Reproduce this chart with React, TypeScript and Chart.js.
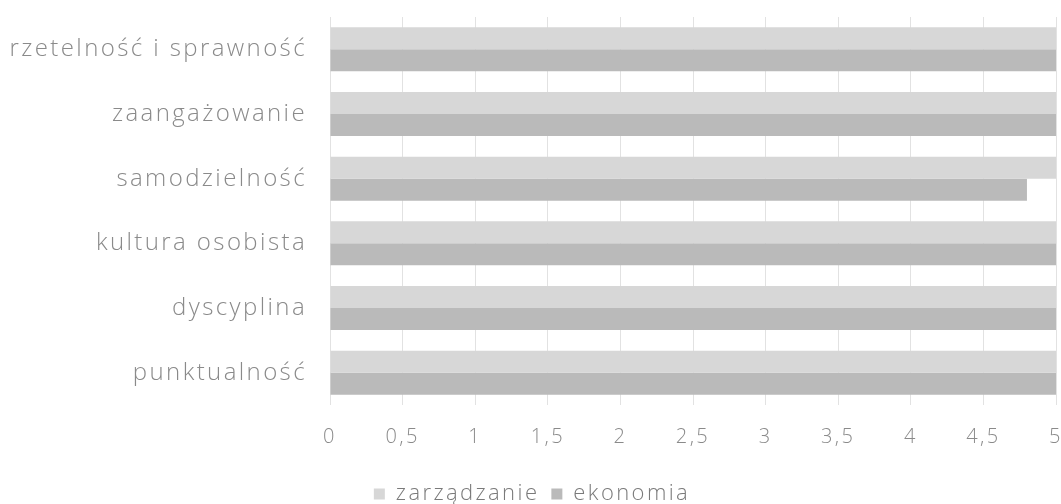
import React, { useEffect, useRef } from "react";
import { Chart, registerables } from "chart.js";

Chart.register(...registerables);

const categories = [
  "rzetelność i sprawność",
  "zaangażowanie",
  "samodzielność",
  "kultura osobista",
  "dyscyplina",
  "punktualność",
];
const zarzadzanie = [5, 5, 5, 5, 5, 5];
const ekonomia = [5, 5, 4.8, 5, 5, 5];
const tickValues = [0, 0.5, 1, 1.5, 2, 2.5, 3, 3.5, 4, 4.5, 5];

const spacingPlugin = {
  id: "spacing",
  beforeUpdate(chart: any) {
    chart.ctx.letterSpacing = "2.4px";
  },
  beforeDraw(chart: any) {
    chart.ctx.letterSpacing = "2.4px";
  },
};

const CANVAS_H = 515;

export default function App() {
  const ref = useRef<HTMLCanvasElement>(null);
  useEffect(() => {
    document.body.style.margin = "0";
    const ctx = ref.current!.getContext("2d")!;
    const chart = new Chart(ctx, {
      type: "bar",
      data: {
        labels: categories,
        datasets: [
          { label: "zarządzanie", data: zarzadzanie, backgroundColor: "#d7d7d7", barPercentage: 1, categoryPercentage: 0.68 },
          { label: "ekonomia", data: ekonomia, backgroundColor: "#bababa", barPercentage: 1, categoryPercentage: 0.68 },
        ],
      },
      options: {
        indexAxis: "y",
        animation: false,
        responsive: false,
        layout: { padding: { top: 17, right: 5, left: 8, bottom: 0 } },
        scales: {
          x: {
            min: 0,
            max: 5,
            afterBuildTicks: (axis: any) => {
              axis.ticks = tickValues.map((v) => ({ value: v }));
            },
            afterFit: (scale: any) => {
              scale.height = 66;
              scale.paddingLeft = 0;
              scale.paddingRight = 0;
            },
            ticks: {
              color: "#8a8a8a",
              font: { family: "Open Sans", size: 20, weight: "300" },
              padding: 20,
              maxRotation: 0,
              callback: (v: any) => String(v).replace(".", ","),
            },
            grid: { color: "#e2e2e2", drawTicks: false },
            border: { display: false },
          },
          y: {
            afterFit: (scale: any) => {
              scale.width = 322;
              scale.paddingTop = 0;
              scale.paddingBottom = 0;
            },
            ticks: {
              color: "#8a8a8a",
              font: { family: "Open Sans", size: 24, weight: "300" },
              padding: 15,
            },
            grid: { display: false },
            border: { display: false },
          },
        },
        plugins: {
          legend: {
            position: "bottom",
            labels: {
              color: "#7a7a7a",
              font: { family: "Open Sans", size: 22, weight: "300" },
              boxWidth: 11,
              boxHeight: 11,
              padding: 12,
            },
          },
          tooltip: { enabled: false },
        },
      },
      plugins: [spacingPlugin],
    });
    return () => chart.destroy();
  }, []);
  return (
    <div style={{ position: "absolute", left: 0, top: 0, width: 1061, height: 504, overflow: "hidden", background: "#fff" }}>
      <canvas ref={ref} width={1061} height={CANVAS_H} />
    </div>
  );
}
